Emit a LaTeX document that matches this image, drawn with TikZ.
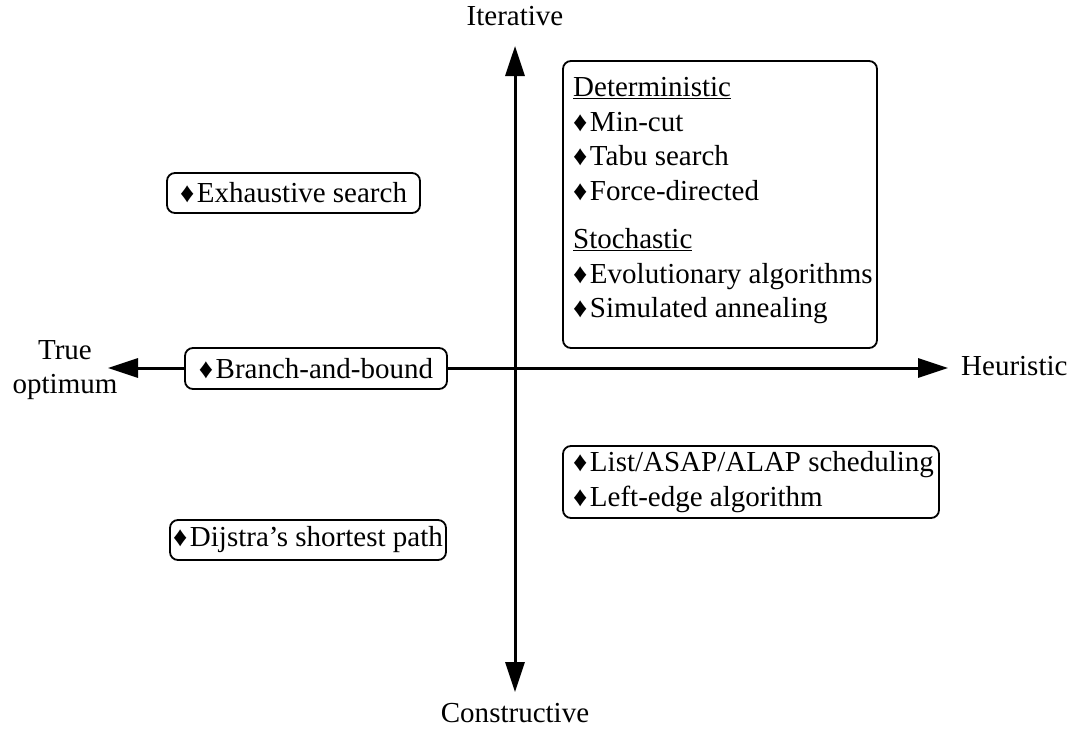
\documentclass[tikz,border=0pt]{standalone}
\usepackage{fontspec}
\setmainfont{Liberation Serif}
\usetikzlibrary{arrows.meta}
% bullet used in front of every algorithm name
\newcommand{\dm}{{\fontsize{28}{28}\selectfont ♦}\hspace{2.5pt}}
\begin{document}
\begin{tikzpicture}[x=1pt,y=-1pt,
  every node/.style={font=\fontsize{29}{34.7}\selectfont, inner sep=0pt},
  axis/.style={line width=3pt, {Triangle[length=30pt,width=19pt]}-{Triangle[length=30pt,width=19pt]}},
  algobox/.style={draw, line width=1.8pt, rounded corners=8pt, fill=white},
  label/.style={align=center}]
\useasboundingbox (0,0) rectangle (1075,728);

% axes
\coordinate (top) at (515,46);
\coordinate (bottom) at (515,692);
\coordinate (left) at (108,368);
\coordinate (right) at (948,368);
\draw[axis] (bottom) -- (top);
\draw[axis] (left) -- (right);

% axis labels
\node[label] (iter) at (515,16) {Iterative};
\node[label] (constr) at (515,713) {Constructive};
\node[label] (trueopt) at (65,370) {True\\optimum};
\node[label, anchor=west] (heur) at (961,366) {Heuristic};

% left-hand boxes
\node[algobox, minimum width=253pt, minimum height=40pt] (exh) at (293.5,193) {\dm Exhaustive search};
\node[algobox, minimum width=262pt, minimum height=41pt] (bnb) at (316,368.5) {\dm Branch-and-bound};
\node[algobox, minimum width=276pt, minimum height=40pt] (dij) at (308,540) {\dm Dijstra’s shortest path};

% iterative heuristics
\node[algobox, fill=none, minimum width=314pt, minimum height=287pt] (iterbox) at (720,204.5) {};
\node[anchor=north west, align=left] (itertext) at (573,77) {%
  \underline{Deterministic}\\
  \dm Min-cut\\
  \dm Tabu search\\
  \dm Force-directed\\[13.3pt]
  \underline{Stochastic}\\
  \dm Evolutionary algorithms\\
  \dm Simulated annealing};

% constructive heuristics
\node[algobox, fill=none, minimum width=376pt, minimum height=72pt] (conbox) at (751,482) {};
\node[anchor=north west, align=left] (context) at (573,451) {%
  \dm List/ASAP/ALAP scheduling\\
  \dm Left-edge algorithm};
\end{tikzpicture}
\end{document}
